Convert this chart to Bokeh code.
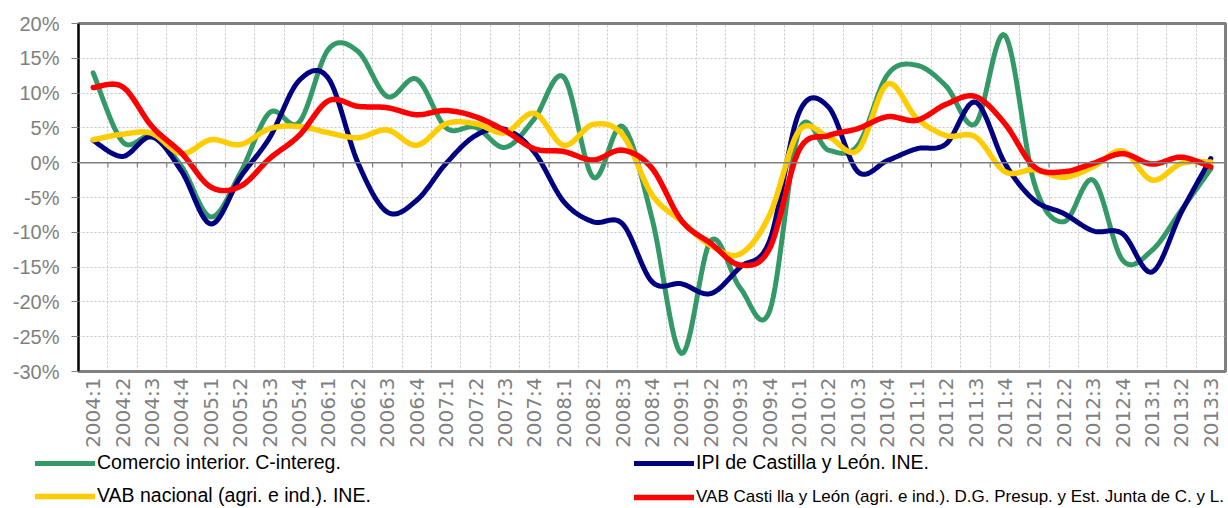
import numpy as np
from bokeh.plotting import figure
from bokeh.layouts import column
from bokeh.models import Range1d, FixedTicker, Legend, LegendItem, Span
from bokeh.embed import file_html
from bokeh.resources import INLINE

quarters = [
    "2004:1", "2004:2", "2004:3", "2004:4",
    "2005:1", "2005:2", "2005:3", "2005:4",
    "2006:1", "2006:2", "2006:3", "2006:4",
    "2007:1", "2007:2", "2007:3", "2007:4",
    "2008:1", "2008:2", "2008:3", "2008:4",
    "2009:1", "2009:2", "2009:3", "2009:4",
    "2010:1", "2010:2", "2010:3", "2010:4",
    "2011:1", "2011:2", "2011:3", "2011:4",
    "2012:1", "2012:2", "2012:3", "2012:4",
    "2013:1", "2013:2", "2013:3",
]

comercio = [12.9, 3.0, 3.8, -0.5, -7.8, -1.5, 7.2, 5.8, 16.3, 16.0,
            9.5, 12.0, 5.0, 5.1, 2.2, 6.3, 12.3, -2.1, 5.2, -8.0,
            -27.4, -11.2, -18.0, -21.3, 4.6, 1.8, 2.5, 12.6, 14.0, 11.0,
            5.6, 18.3, -3.0, -8.5, -2.5, -14.0, -12.6, -6.8, -0.9]

ipi = [3.2, 0.9, 3.7, -1.2, -8.8, -2.1, 3.6, 11.8, 12.1, 0.0,
       -7.1, -5.4, -0.1, 3.9, 4.8, 1.5, -5.6, -8.5, -8.8, -17.1,
       -17.4, -18.8, -15.0, -11.2, 7.2, 8.0, -1.3, 0.3, 2.0, 2.7,
       8.7, -0.1, -5.4, -7.3, -9.8, -10.2, -15.7, -7.1, 0.6]

vab_nacional = [3.3, 4.1, 4.2, 1.3, 3.3, 2.6, 4.9, 5.2, 4.3, 3.6,
                4.7, 2.5, 5.6, 5.6, 4.3, 7.1, 2.5, 5.5, 4.0, -4.6,
                -8.4, -11.9, -13.1, -7.5, 4.6, 3.7, 1.8, 11.3, 6.4, 3.9,
                3.7, -1.3, -1.0, -2.1, -0.6, 1.7, -2.5, -0.1, 0.1]

vab_cyl = [10.8, 10.9, 5.2, 1.4, -3.5, -3.4, 0.6, 3.9, 8.9, 8.1,
           7.9, 6.9, 7.5, 6.6, 4.6, 2.0, 1.6, 0.4, 1.8, -0.8,
           -8.3, -11.6, -14.7, -12.3, 1.8, 3.9, 4.9, 6.6, 6.1, 8.4,
           9.5, 5.6, -0.6, -1.3, -0.1, 1.3, -0.2, 0.8, -0.6]

series_names = [
    "Comercio interior. C-intereg.",
    "IPI de Castilla y León. INE.",
    "VAB nacional (agri. e ind.). INE.",
    "VAB Casti lla y León (agri. e ind.). D.G. Presup. y Est. Junta de C. y L.",
]

y_ticks = list(range(-30, 25, 5))


def smooth(values, n=16):
    """Excel-style smoothed line: cubic Bezier through the data points."""
    pts = np.column_stack([np.arange(len(values), dtype=float),
                           np.asarray(values, dtype=float)])
    P = np.vstack([pts[0], pts, pts[-1]])
    t = np.linspace(0, 1, n, endpoint=False)[:, None]
    out = []
    for i in range(1, len(P) - 2):
        p0, p1, p2, p3 = P[i - 1], P[i], P[i + 1], P[i + 2]
        c1 = p1 + (p2 - p0) / 6.0
        c2 = p2 - (p3 - p1) / 6.0
        seg = ((1 - t) ** 3) * p1 + 3 * ((1 - t) ** 2) * t * c1 \
            + 3 * (1 - t) * t ** 2 * c2 + t ** 3 * p2
        out.append(seg)
    out.append(pts[-1][None, :])
    arr = np.vstack(out)
    return arr[:, 0], arr[:, 1]


FONT = "Liberation Sans"
GRAY = "#7f7f7f"
n = len(quarters)
all_series = [comercio, ipi, vab_nacional, vab_cyl]
colors = ["#339966", "#000080", "#FFCC00", "#FF0000"]
widths = [5, 5, 5.5, 5.5]

# ---------------- main chart ----------------
p = figure(width=1228, height=450, output_backend="svg", toolbar_location=None,
           x_range=Range1d(-0.5, n - 0.5), y_range=Range1d(-30, 20),
           min_border_left=78, min_border_right=3, min_border_top=23,
           min_border_bottom=78)
p.frame_align = False
p.background_fill_color = "white"
p.border_fill_color = "white"
p.outline_line_color = "#808080"
p.outline_line_width = 3

boundaries = [i + 0.5 for i in range(-1, n)]
p.xgrid.ticker = FixedTicker(ticks=boundaries)
p.ygrid.ticker = FixedTicker(ticks=y_ticks)
for g in (p.xgrid, p.ygrid):
    g.grid_line_color = "#c6c6c6"
    g.grid_line_dash = "2 2"
    g.grid_line_width = 1

p.xaxis.ticker = FixedTicker(ticks=list(range(n)))
p.xaxis.major_label_overrides = {i: q for i, q in enumerate(quarters)}
p.xaxis.major_label_orientation = np.pi / 2
p.xaxis.major_label_text_font = "DejaVu Sans"
p.xaxis.major_label_text_font_size = "20px"
p.xaxis.major_label_text_color = GRAY
p.xaxis.major_label_standoff = 6
p.xaxis.major_tick_out = 0
p.xaxis.major_tick_in = 0
p.xaxis.minor_tick_line_color = None
p.xaxis.axis_line_color = "#808080"
p.xaxis.axis_line_width = 3

p.yaxis.ticker = FixedTicker(ticks=y_ticks)
p.yaxis.major_label_overrides = {t: f"{t}%" for t in y_ticks}
p.yaxis.major_label_text_font = FONT
p.yaxis.major_label_text_font_size = "20px"
p.yaxis.major_label_text_color = GRAY
p.yaxis.major_label_standoff = 12
p.yaxis.major_tick_out = 7
p.yaxis.major_tick_in = 0
p.yaxis.major_tick_line_color = "#808080"
p.yaxis.minor_tick_line_color = None
p.yaxis.axis_line_color = "black"
p.yaxis.axis_line_width = 2

p.add_layout(Span(location=0, dimension="width", line_color="#808080",
                  line_width=1.5))
inner = boundaries[1:-1]
p.segment(x0=inner, y0=[0] * len(inner), x1=inner, y1=[-0.7] * len(inner),
          line_color="#808080", line_width=1.2)

smoothed = [smooth(vals) for vals in all_series]
for (xs, ys), c, w in zip(smoothed, colors, widths):
    p.line(xs, ys, line_color=c, line_width=w, line_cap="round",
           line_join="round")

# ---------------- legend strip ----------------
# the series are drawn again here far outside the visible y range,
# only so the legend entries have renderers to take their style from
leg = figure(width=1228, height=58, output_backend="svg", toolbar_location=None,
             x_range=Range1d(-0.5, n - 0.5), y_range=Range1d(100, 101),
             x_axis_location=None, y_axis_location=None,
             min_border_left=0, min_border_right=0, min_border_top=0,
             min_border_bottom=0)
leg.frame_align = False
leg.grid.visible = False
leg.outline_line_color = None
leg.background_fill_color = "white"
leg.border_fill_color = "white"

legend_spec = [
    (0, (35, 34), "19.5px"),
    (1, (634, 34), "19.5px"),
    (2, (35, 1), "19.5px"),
    (3, (634, 1), "17px"),
]
for idx, loc, fs in legend_spec:
    xs, ys = smoothed[idx]
    r = leg.line(xs, ys, line_color=colors[idx], line_width=widths[idx],
                 line_cap="round")
    lg = Legend(items=[LegendItem(label=series_names[idx], renderers=[r])],
                location=loc, orientation="vertical")
    lg.border_line_color = None
    lg.background_fill_alpha = 0
    lg.padding = 0
    lg.margin = 0
    lg.spacing = 0
    lg.glyph_width = 60
    lg.glyph_height = 20
    lg.label_height = 20
    lg.label_standoff = 2
    lg.label_text_font = FONT
    lg.label_text_font_size = fs
    lg.label_text_color = "black"
    lg.label_text_baseline = "middle"
    leg.add_layout(lg, "center")

layout = column(p, leg, spacing=0)
open("out.html", "w").write(file_html(layout, INLINE))
